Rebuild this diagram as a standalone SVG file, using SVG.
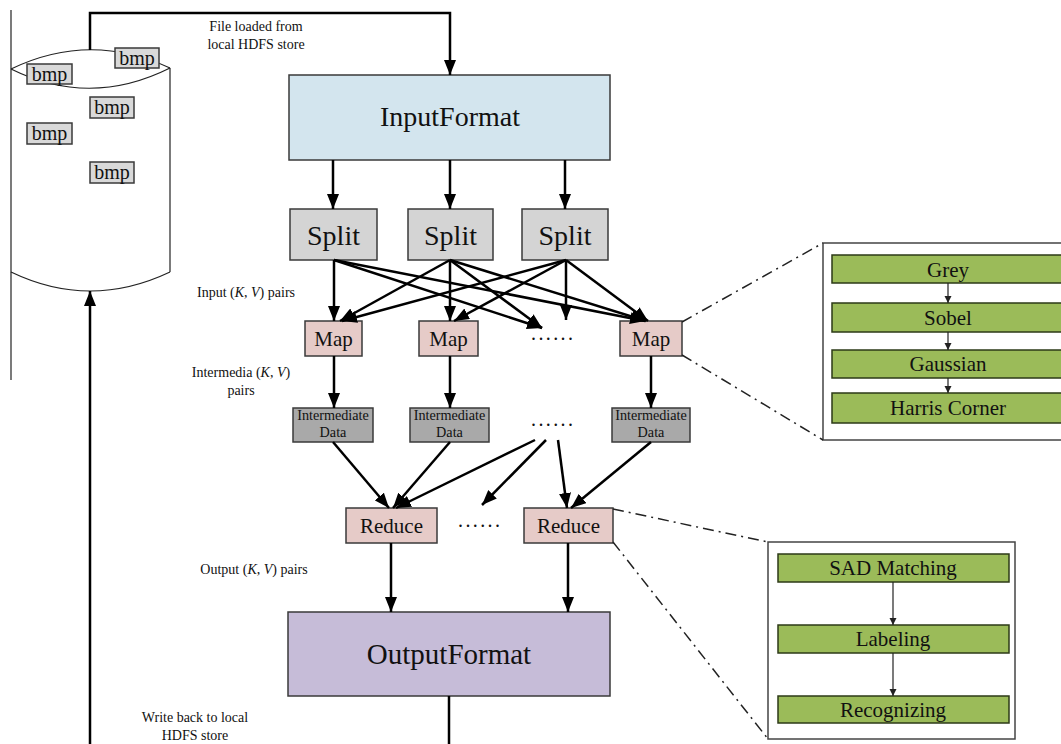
<svg xmlns="http://www.w3.org/2000/svg" width="1061" height="744" viewBox="0 0 1061 744" font-family="'Liberation Serif', 'DejaVu Serif', serif">
<defs>
<style>
text{font-family:'Liberation Serif','DejaVu Serif',serif;fill:#111;}
.box{stroke:#3a3a3a;stroke-width:1.5;}
.big{font-size:28px;text-anchor:middle;}
.mid{font-size:21px;text-anchor:middle;}
.lbl{font-size:14px;text-anchor:middle;}
.small{font-size:14.2px;text-anchor:middle;}
.c{fill:none;stroke:#000;stroke-width:2.5;}
.thin{fill:none;stroke:#222;stroke-width:1.2;}
.dd{fill:none;stroke:#222;stroke-width:1.5;stroke-dasharray:11,5,2,5;}
.green{fill:#9bbb59;stroke:#2d3a17;stroke-width:1.5;}
.dots{font-size:20px;letter-spacing:2.4px;}
</style>
<marker id="ah" markerUnits="userSpaceOnUse" markerWidth="16" markerHeight="12" refX="15" refY="6" orient="auto">
<path d="M0,0 L15,6 L0,12 z" fill="#000"/>
</marker>
<marker id="as" markerUnits="userSpaceOnUse" markerWidth="8" markerHeight="8" refX="7" refY="3.5" orient="auto">
<path d="M0,0 L7,3.5 L0,7 z" fill="#222"/>
</marker>
</defs>
<rect width="1061" height="744" fill="#fff"/>

<g id="storage">
<line x1="11" y1="10" x2="11" y2="380" class="thin"/>
<line x1="170" y1="68" x2="170" y2="272" class="thin"/>
<path d="M11,69 Q90,31 170,68" class="thin"/>
<path d="M11,69 Q90,108 170,68" class="thin"/>
<path d="M11,272 Q90,310 170,272" class="thin"/>
<g id="bmp1"><rect x="115" y="48" width="44" height="20" fill="#d9d9d9" class="box"/><text x="137" y="65" class="mid" style="font-size:20px">bmp</text></g>
<g id="bmp2"><rect x="27" y="64" width="45" height="20" fill="#d9d9d9" class="box"/><text x="49.5" y="81" class="mid" style="font-size:20px">bmp</text></g>
<g id="bmp3"><rect x="90" y="97" width="44" height="21" fill="#d9d9d9" class="box"/><text x="112" y="114" class="mid" style="font-size:20px">bmp</text></g>
<g id="bmp4"><rect x="27" y="123" width="45" height="21" fill="#d9d9d9" class="box"/><text x="49.5" y="140" class="mid" style="font-size:20px">bmp</text></g>
<g id="bmp5"><rect x="90" y="162" width="44" height="21" fill="#d9d9d9" class="box"/><text x="112" y="179" class="mid" style="font-size:20px">bmp</text></g>
</g>

<g id="inputformat"><rect x="289" y="75" width="321" height="85" fill="#d3e5ee" class="box"/><text x="450" y="126" class="big">InputFormat</text></g>

<g id="split1"><rect x="290" y="209" width="87" height="51" fill="#d4d4d4" class="box"/><text x="333.5" y="245" class="big">Split</text></g>
<g id="split2"><rect x="408" y="209" width="85" height="51" fill="#d4d4d4" class="box"/><text x="450.5" y="245" class="big">Split</text></g>
<g id="split3"><rect x="522" y="209" width="86" height="51" fill="#d4d4d4" class="box"/><text x="565" y="245" class="big">Split</text></g>

<g id="map1"><rect x="305" y="321" width="57" height="35" fill="#e6cbc8" class="box"/><text x="333.5" y="346" class="mid">Map</text></g>
<g id="map2"><rect x="419" y="321" width="59" height="35" fill="#e6cbc8" class="box"/><text x="448.5" y="346" class="mid">Map</text></g>
<g id="map3"><rect x="620" y="321" width="62" height="35" fill="#e6cbc8" class="box"/><text x="651" y="346" class="mid">Map</text></g>

<g id="inter1"><rect x="293" y="408" width="80" height="34" fill="#a9a9a9" class="box"/><text x="333" y="420" class="small">Intermediate</text><text x="333" y="437" class="small">Data</text></g>
<g id="inter2"><rect x="410" y="408" width="79" height="34" fill="#a9a9a9" class="box"/><text x="449.5" y="420" class="small">Intermediate</text><text x="449.5" y="437" class="small">Data</text></g>
<g id="inter3"><rect x="612" y="408" width="78" height="34" fill="#a9a9a9" class="box"/><text x="651" y="420" class="small">Intermediate</text><text x="651" y="437" class="small">Data</text></g>

<g id="reduce1"><rect x="346" y="508" width="91" height="35" fill="#e6cbc8" class="box"/><text x="391.5" y="533" class="mid">Reduce</text></g>
<g id="reduce2"><rect x="524" y="508" width="89" height="35" fill="#e6cbc8" class="box"/><text x="568.5" y="533" class="mid">Reduce</text></g>

<g id="outputformat"><rect x="288" y="612" width="322" height="84" fill="#c6bcd8" class="box"/><text x="449" y="664" class="big" style="font-size:29px">OutputFormat</text></g>

<g id="mapdetail">
<rect x="823" y="243" width="260" height="197" fill="#fff" stroke="#444" stroke-width="1.5"/>
<g id="grey"><rect x="832" y="255" width="240" height="28" class="green"/><text x="948" y="277" class="mid">Grey</text></g>
<g id="sobel"><rect x="832" y="303" width="240" height="29" class="green"/><text x="948" y="325" class="mid">Sobel</text></g>
<g id="gaussian"><rect x="832" y="350" width="240" height="28" class="green"/><text x="948" y="371" class="mid">Gaussian</text></g>
<g id="harris"><rect x="832" y="393" width="240" height="30" class="green"/><text x="948" y="415" class="mid">Harris Corner</text></g>
</g>

<g id="reducedetail">
<rect x="768" y="542" width="247" height="197" fill="#fff" stroke="#444" stroke-width="1.5"/>
<g id="sad"><rect x="778" y="554" width="231" height="28" class="green"/><text x="893" y="575" class="mid">SAD Matching</text></g>
<g id="labeling"><rect x="778" y="625" width="231" height="28" class="green"/><text x="893" y="646" class="mid">Labeling</text></g>
<g id="recognizing"><rect x="778" y="696" width="231" height="27" class="green"/><text x="893" y="717" class="mid">Recognizing</text></g>
</g>

<g id="labels">
<text x="256" y="31" class="lbl">File loaded from</text>
<text x="256" y="49" class="lbl">local HDFS store</text>
<text x="246" y="297" class="lbl">Input (<tspan font-style="italic">K</tspan>, <tspan font-style="italic">V</tspan>) pairs</text>
<text x="241" y="377" class="lbl">Intermedia (<tspan font-style="italic">K</tspan>, <tspan font-style="italic">V</tspan>)</text>
<text x="241" y="395" class="lbl">pairs</text>
<text x="254" y="574" class="lbl">Output (<tspan font-style="italic">K</tspan>, <tspan font-style="italic">V</tspan>) pairs</text>
<text x="195" y="722" class="lbl">Write back to local</text>
<text x="195" y="740" class="lbl">HDFS store</text>
<text x="531" y="340" class="dots">......</text>
<text x="531" y="426" class="dots">......</text>
<text x="458" y="527" class="dots">......</text>
</g>

<g id="connectors">
<polyline points="90,50 90,13 450,13 450,75" class="c" marker-end="url(#ah)"/>
<line x1="90" y1="744" x2="90" y2="291" class="c" marker-end="url(#ah)"/>
<line x1="449" y1="696" x2="449" y2="744" class="c"/>

<line x1="333" y1="160" x2="333" y2="209" class="c" marker-end="url(#ah)"/>
<line x1="450" y1="160" x2="450" y2="209" class="c" marker-end="url(#ah)"/>
<line x1="565" y1="160" x2="565" y2="209" class="c" marker-end="url(#ah)"/>

<line x1="334" y1="260" x2="334" y2="321" class="c" marker-end="url(#ah)"/>
<line x1="334" y1="260" x2="542" y2="328" class="c" marker-end="url(#ah)"/>
<line x1="334" y1="260" x2="645" y2="321" class="c" marker-end="url(#ah)"/>
<line x1="450" y1="260" x2="340" y2="321" class="c" marker-end="url(#ah)"/>
<line x1="450" y1="260" x2="450" y2="321" class="c" marker-end="url(#ah)"/>
<line x1="450" y1="260" x2="542" y2="328" class="c" marker-end="url(#ah)"/>
<line x1="450" y1="260" x2="646" y2="321" class="c" marker-end="url(#ah)"/>
<line x1="566" y1="260" x2="342" y2="321" class="c" marker-end="url(#ah)"/>
<line x1="566" y1="260" x2="454" y2="321" class="c" marker-end="url(#ah)"/>
<line x1="566" y1="260" x2="566" y2="320" class="c" marker-end="url(#ah)"/>
<line x1="566" y1="260" x2="648" y2="321" class="c" marker-end="url(#ah)"/>

<line x1="334" y1="356" x2="334" y2="408" class="c" marker-end="url(#ah)"/>
<line x1="450" y1="356" x2="450" y2="408" class="c" marker-end="url(#ah)"/>
<line x1="651" y1="356" x2="651" y2="408" class="c" marker-end="url(#ah)"/>

<line x1="333" y1="442" x2="389" y2="508" class="c" marker-end="url(#ah)"/>
<line x1="450" y1="442" x2="393" y2="508" class="c" marker-end="url(#ah)"/>
<line x1="535" y1="440" x2="396" y2="508" class="c" marker-end="url(#ah)"/>
<line x1="546" y1="440" x2="482" y2="505" class="c" marker-end="url(#ah)"/>
<line x1="558" y1="440" x2="567" y2="508" class="c" marker-end="url(#ah)"/>
<line x1="651" y1="442" x2="571" y2="508" class="c" marker-end="url(#ah)"/>

<line x1="391" y1="543" x2="391" y2="612" class="c" marker-end="url(#ah)"/>
<line x1="568" y1="543" x2="568" y2="612" class="c" marker-end="url(#ah)"/>

<line x1="682" y1="322" x2="823" y2="243" class="dd"/>
<line x1="682" y1="355" x2="823" y2="440" class="dd"/>
<line x1="613" y1="509" x2="768" y2="542" class="dd"/>
<line x1="613" y1="542" x2="768" y2="739" class="dd"/>

<line x1="948" y1="283" x2="948" y2="303" class="thin" marker-end="url(#as)"/>
<line x1="948" y1="332" x2="948" y2="350" class="thin" marker-end="url(#as)"/>
<line x1="948" y1="378" x2="948" y2="393" class="thin" marker-end="url(#as)"/>
<line x1="893" y1="582" x2="893" y2="625" class="thin" marker-end="url(#as)"/>
<line x1="893" y1="653" x2="893" y2="696" class="thin" marker-end="url(#as)"/>
</g>
</svg>
